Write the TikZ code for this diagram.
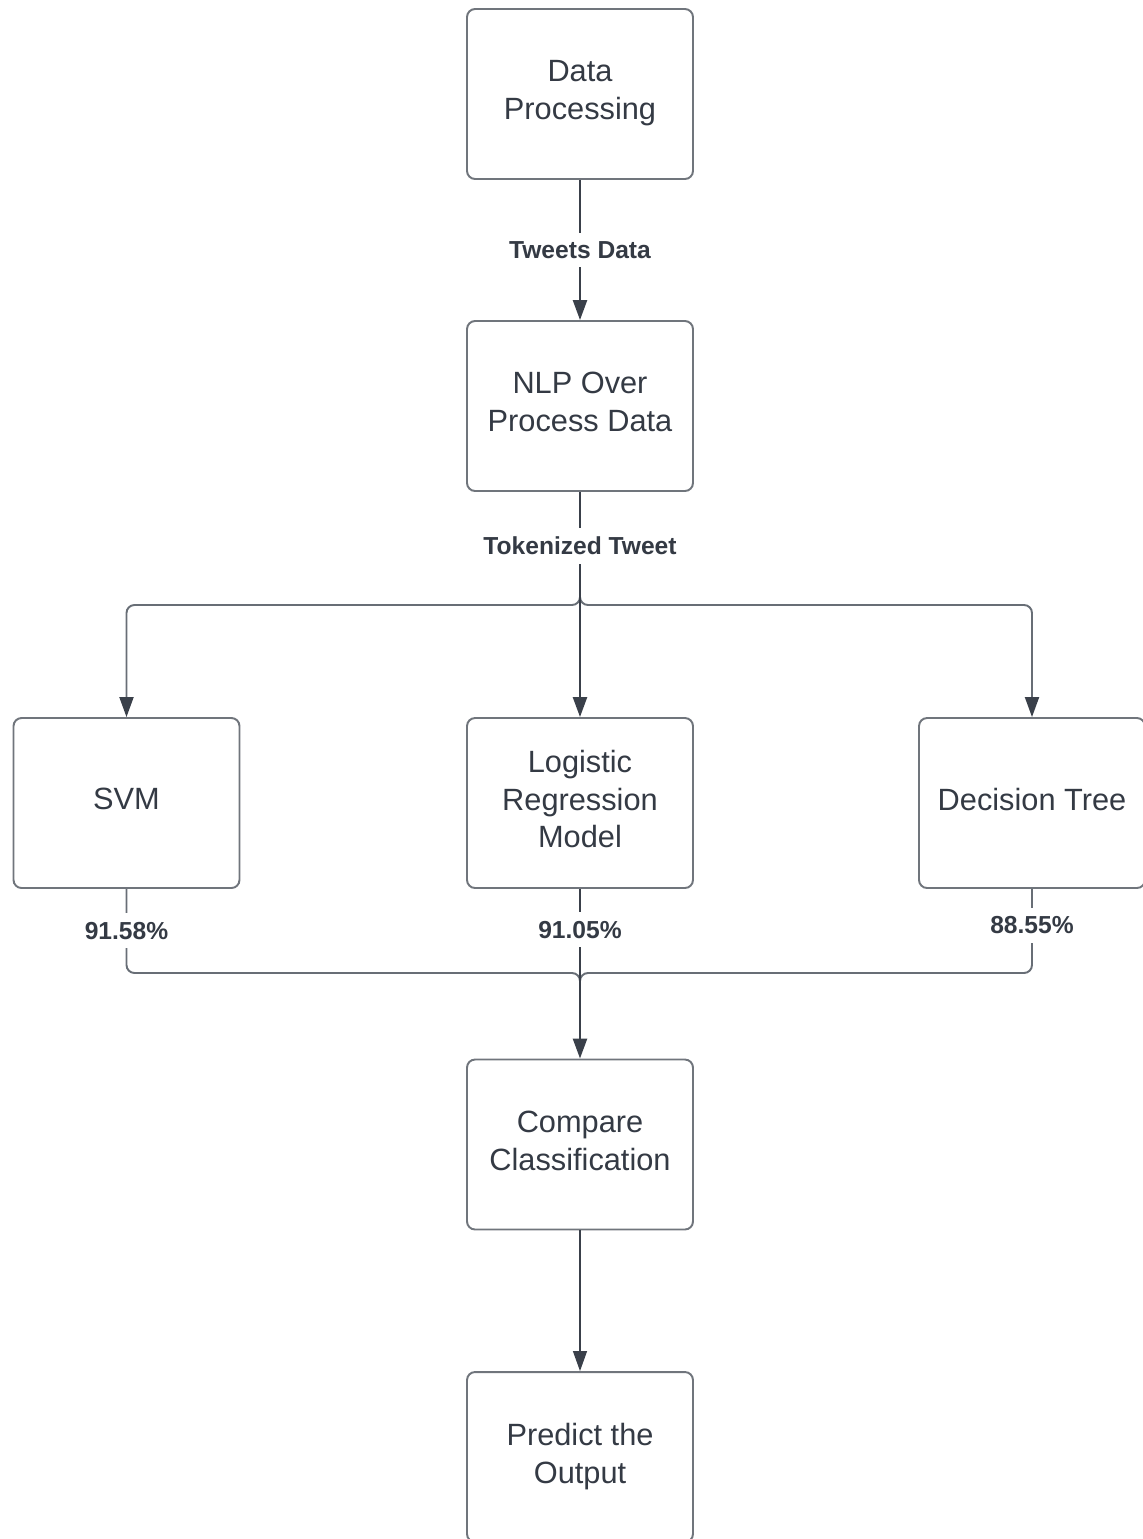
\documentclass[tikz,border=0pt]{standalone}
\usepackage{fontspec}
\setmainfont{Liberation Sans}
\usetikzlibrary{arrows.meta}
\definecolor{txtc}{RGB}{52,58,68}
\definecolor{darkln}{RGB}{58,64,74}
\definecolor{grayln}{RGB}{104,110,118}
\definecolor{boxln}{RGB}{112,117,124}
\tikzset{
  box/.style={draw=boxln, line width=1.1pt, rounded corners=0.16cm, fill=white,
    minimum width=4.52cm, minimum height=3.4cm, align=center, text=txtc,
    font=\fontsize{17.5}{21.5}\selectfont, inner sep=0pt, text depth=0.45em},
  lbl/.style={fill=white, text=txtc, font=\bfseries\fontsize{14}{16}\selectfont,
    inner xsep=1pt, inner ysep=5pt},
  tip/.style={-{Triangle[length=0.4cm,width=0.28cm,color=darkln,fill=darkln]}},
  mainln/.style={draw=darkln, line width=1.4pt, tip},
  branch/.style={draw=grayln, line width=1.1pt, rounded corners=0.16cm},
  thinln/.style={draw=darkln, line width=0.7pt, tip}
}
\begin{document}
\begin{tikzpicture}[x=0.02cm,y=-0.02cm]
\useasboundingbox (0,0) rectangle (1143,1539);
\node[box] (dp)  at (580,94)   {Data\\Processing};
\node[box] (nlp) at (580,406)  {NLP Over\\Process Data};
\node[box] (svm) at (126.5,803) {SVM};
\node[box] (lr)  at (580,803)  {Logistic\\Regression\\Model};
\node[box] (dt)  at (1032,803) {Decision Tree};
\node[box] (cmp) at (580,1144.5) {Compare\\Classification};
\node[box] (pr)  at (580,1457) {Predict the\\Output};
\coordinate (split) at (580,605);
\coordinate (join) at (580,973);
% top branches
\draw[branch, tip] (580,585) -- (split) -| (svm.north);
\draw[branch, tip] (580,585) -- (split) -| (dt.north);
\draw[mainln] (dp) -- node[lbl]{Tweets Data} (nlp);
\draw[mainln] (nlp) -- node[lbl, pos=0.24]{Tokenized Tweet} (lr);
% bottom branches
\draw[branch] (svm.south) |- (join) -- ++(0,20);
\draw[branch] (dt.south) |- (join) -- ++(0,20);
\path (svm.south) -- node[lbl]{91.58\%} (svm.south |- join);
\path (dt.south) -- node[lbl, pos=0.43]{88.55\%} (dt.south |- join);
\draw[mainln] (lr) -- node[lbl, pos=0.24]{91.05\%} (cmp);
\draw[thinln] (cmp) -- (pr);
\end{tikzpicture}
\end{document}
